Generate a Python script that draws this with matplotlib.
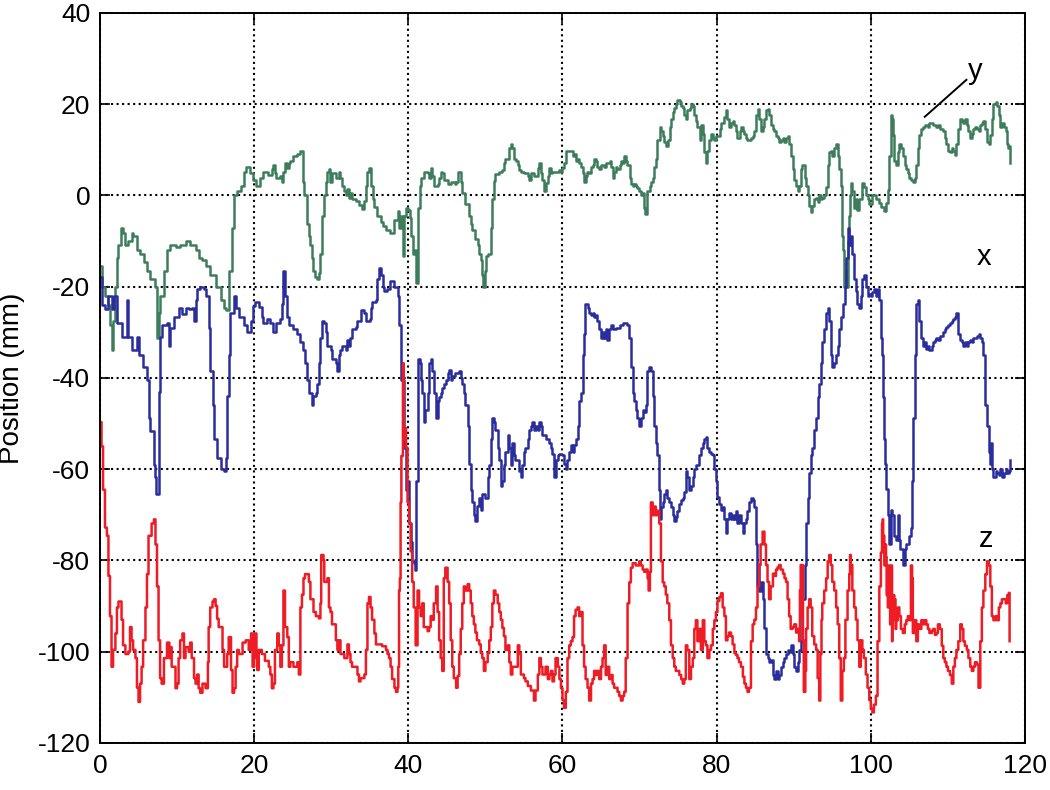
import numpy as np
import matplotlib
matplotlib.use("Agg")
import matplotlib.pyplot as plt

plt.rcParams['font.family'] = ['Liberation Sans', 'DejaVu Sans']
plt.rcParams['axes.unicode_minus'] = False

# (time, position) samples
y_trace = [
    (0, -15.5), (0.2, -20), (0.6, -22), (1.0, -24), (1.3, -28.5), (1.5, -34), (1.7, -27.5), (2.0, -20),
    (2.2, -13.7), (2.4, -11), (2.7, -7.2), (3.0, -8.2), (3.3, -11), (3.7, -10), (4.1, -8.2), (4.3, -9),
    (4.8, -11.9), (5.2, -12.8), (5.7, -14.6), (6.1, -16.5), (6.5, -18.3), (7.0, -18.3), (7.2, -20),
    (7.4, -31.2), (7.6, -25.7), (7.8, -22), (8.3, -16.5), (8.7, -11.9), (9.1, -11), (9.8, -11.4),
    (10.4, -11), (11.1, -10), (11.7, -11), (12.4, -11.9), (12.8, -13.7), (13.3, -14.2), (13.7, -15.5),
    (14.3, -17.4), (15.0, -20), (15.7, -22.9), (16.1, -24.8), (16.4, -25.2), (16.7, -16.5), (17.1, -7.2),
    (17.4, 0.1), (17.8, 1), (18.3, 2), (18.7, 5.2), (19.0, 6.1), (19.4, 4.8), (19.8, 3.4),
    (20.3, 2), (20.8, 3.8), (21.2, 5.2), (21.8, 4.5), (22.3, 5.8), (22.5, 6.6), (22.7, 4.8), (22.9, 3.8),
    (23.4, 4.3), (23.6, 3), (23.8, 5.2), (24.0, 7), (24.3, 6), (24.5, 7), (24.7, 7.5), (25.1, 8.5),
    (25.6, 9), (26.0, 9.8), (26.3, 8.5), (26.4, 3), (26.5, 0), (26.8, -6.3), (27.1, -9), (27.3, -11),
    (27.5, -13.7), (27.7, -16.5), (27.9, -17.9), (28.2, -18.3), (28.4, -17), (28.6, -12.8), (28.8, -4.6),
    (29.0, 0), (29.3, 3), (29.5, 5.2), (29.7, 5.7), (29.9, 3), (30.1, 4.8), (30.6, 3.8), (31.0, 5.2),
    (31.2, 3.8), (31.4, 2), (31.7, 1), (31.9, 0), (32.1, 1.4), (32.3, -0.5), (32.5, 0.5), (32.7, -0.8),
    (33.2, -1.3), (33.6, -2.2), (34.0, -3.1), (34.3, -1.3), (34.5, 2), (34.7, 5.2), (34.9, 5.9), (35.1, 2),
    (35.4, -0.8), (35.6, -2.6), (36.0, -4.5), (36.4, -5.8), (36.7, -6.8), (37.1, -7.7), (37.6, -8.2),
    (38.0, -8.2), (38.2, -5.4), (38.6, -3.5), (38.8, -7.2), (39.0, -4.6), (39.3, -13.2), (39.5, -4.6),
    (39.7, -2.8), (40.0, -3.2), (40.2, -5), (40.4, -9), (40.6, -12.8), (40.9, -12), (41.0, -19.2),
    (41.2, -13.7), (41.3, -2.8), (41.5, 2), (41.7, 3.8), (42.0, 5.2), (42.5, 4.8), (42.7, 3.8), (42.9, 6),
    (43.1, 4.3), (43.3, 2), (43.8, 2.5), (44.0, 3.8), (44.2, 5.2), (44.4, 4.8), (44.6, 3.4), (45.1, 2.5),
    (45.5, 3), (46.0, 2.5), (46.2, 3), (46.4, 5.2), (46.6, 5.2), (46.8, 3), (47.0, 0.5), (47.4, -1.8),
    (47.9, -4.5), (48.1, -6.3), (48.3, -7.7), (48.7, -9.5), (49.0, -11), (49.2, -12.8), (49.4, -14.2),
    (49.6, -17.4), (49.7, -20), (50.0, -16.5), (50.1, -13.2), (50.4, -12.8), (50.7, -7.2), (50.9, -0.8),
    (51.1, 3.2), (51.3, 4.6), (51.8, 5.2), (52.2, 5.6), (52.4, 7), (52.6, 8), (52.9, 8), (53.1, 10.3),
    (53.3, 11.2), (53.5, 10.3), (53.7, 8), (54.0, 7.5), (54.2, 6.6), (54.4, 5.6), (54.6, 5.2), (55.0, 4.8),
    (55.5, 4.3), (55.7, 3.4), (55.9, 4.8), (56.3, 4.3), (56.8, 6), (57.0, 7), (57.2, 4.8), (57.4, 3.4),
    (57.6, 1), (57.8, 2.8), (58.1, 4.3), (58.3, 6), (58.5, 4.8), (58.7, 5.2), (59.1, 5.2), (59.6, 5.6),
    (59.8, 5.2), (60.0, 6), (60.2, 7), (60.4, 9.8), (60.9, 9.8), (61.3, 8.5), (61.5, 9), (61.7, 7.5),
    (62.0, 7.9), (62.2, 7), (62.4, 6.2), (62.6, 4.8), (62.8, 2.9), (63.0, 4.3), (63.2, 5.2), (63.5, 4.8),
    (63.7, 6.2), (63.9, 6.6), (64.1, 8), (64.3, 7.5), (64.5, 6.2), (64.8, 5.7), (65.0, 6.6), (65.4, 6.2),
    (65.6, 7), (66.1, 7.5), (66.3, 6.2), (66.5, 3.8), (66.7, 5.2), (66.9, 6.2), (67.1, 5.7), (67.4, 6.6),
    (67.6, 7.5), (67.8, 7), (68.0, 8.5), (68.2, 7.5), (68.4, 6.6), (68.7, 3.8), (68.9, 2.5), (69.1, 2),
    (69.3, 2.5), (69.5, 2), (69.7, 1.6), (69.9, 1), (70.2, 0), (70.4, 0.5), (70.6, -2.8), (70.7, -4),
    (70.9, -0.9), (71.0, 1), (71.3, 2), (71.5, 2.9), (71.7, 3.8), (71.9, 6.2), (72.1, 7.9), (72.3, 12.2),
    (72.6, 14.9), (72.8, 14), (73.0, 13), (73.2, 11.7), (73.4, 10.8), (73.7, 12.2), (73.9, 14.9),
    (74.1, 16.8), (74.3, 18.2), (74.5, 19.1), (74.7, 20), (74.9, 20.9), (75.2, 20.5), (75.4, 19.5),
    (75.6, 19.1), (75.8, 17.7), (76.0, 16.8), (76.2, 18.6), (76.5, 19.1), (76.7, 20), (76.9, 19.5),
    (77.1, 17.7), (77.3, 16.3), (77.5, 14.9), (77.8, 12.2), (78.0, 15.4), (78.2, 13.5), (78.4, 9.4),
    (78.6, 7), (78.8, 9.8), (79.0, 12.2), (79.3, 13.5), (79.5, 12.6), (79.7, 12.2), (79.9, 13),
    (80.1, 13), (80.4, 14.5), (80.6, 15.9), (81.0, 17.2), (81.2, 18.6), (81.4, 16.8), (81.6, 14.9),
    (81.9, 15.9), (82.1, 16.3), (82.3, 15.4), (82.5, 14), (82.7, 12.6), (83.0, 14), (83.2, 14.9),
    (83.4, 14), (83.6, 13.5), (83.8, 12.6), (84.0, 12.2), (84.5, 12.6), (84.7, 13), (84.9, 14),
    (85.1, 17.7), (85.3, 19), (85.5, 16.8), (85.7, 14), (86.0, 14.9), (86.2, 16.8), (86.4, 18.6),
    (86.6, 19), (86.8, 17.7), (87.0, 15.4), (87.3, 14.5), (87.5, 14), (87.7, 13), (87.9, 12.6),
    (88.1, 11.7), (88.3, 12.2), (88.6, 12.6), (88.8, 11.7), (89.0, 12.6), (89.2, 13), (89.4, 11.2),
    (89.6, 8.5), (89.85, 5.7), (90.06, 3.4), (90.3, 2), (90.5, 1), (90.7, 2), (90.9, 5.7), (91.1, 6.6),
    (91.4, 3.8), (91.6, 2), (91.8, 0), (92.0, -2.3), (92.2, -3.7), (92.4, -2.3), (92.66, -0.9),
    (92.9, -0.5), (93.1, -1.4), (93.3, 0), (93.5, -0.9), (93.7, -0.5), (93.95, 0), (94.2, 1.8),
    (94.4, 6.6), (94.6, 9.4), (94.8, 9.8), (95.0, 8.5), (95.25, 10.3), (95.5, 11.2), (95.7, 8.5),
    (95.9, 5.7), (96.1, 2), (96.2, -9), (96.33, -11.9), (96.46, -20.2), (96.6, -16.5), (96.76, -20.2),
    (96.98, -18.3), (97.1, -10), (97.2, -4.6), (97.3, 0), (97.4, 2.8), (97.6, 1), (97.84, -2.8),
    (98.06, -0.9), (98.27, -3.2), (98.5, -0.9), (98.7, -0.9), (98.9, 2.8), (99.1, 1.8), (99.35, 0),
    (99.57, -0.9), (99.8, -1.8), (100.2, 0.15), (100.65, -0.8), (101.1, -1.7), (101.3, -2.6),
    (101.75, -3.5), (101.97, -1.7), (102.2, 1.1), (102.4, 8.5), (102.6, 17.7), (102.8, 16.8),
    (102.9, 13.1), (103.05, 7.5), (103.3, 6.6), (103.5, 9.4), (103.7, 11.2), (103.9, 10.3),
    (104.15, 8.5), (104.4, 6.6), (104.6, 5.7), (104.8, 4.8), (105.0, 3.8), (105.2, 3.4), (105.5, 2.9),
    (105.7, 3.8), (105.9, 6.6), (106.1, 10.3), (106.3, 13.1), (106.55, 14.5), (106.8, 14.9), (107.0, 15.4),
    (107.4, 14.9), (107.6, 15.8), (108.1, 15.4), (108.5, 14.9), (108.7, 15.4), (108.95, 14.5), (109.4, 14),
    (109.6, 12.6), (109.8, 11.2), (110.0, 9.8), (110.26, 9.4), (110.5, 10.3), (110.7, 9.8), (110.9, 8.9),
    (111.1, 11.2), (111.35, 14.5), (111.6, 16.8), (111.8, 16.3), (112.0, 15.8), (112.2, 16.8),
    (112.45, 15.4), (112.66, 14), (112.9, 12.6), (113.1, 13.5), (113.3, 14.5), (113.5, 14.9),
    (113.75, 14.5), (113.97, 14), (114.2, 15.4), (114.4, 15.8), (114.6, 16.3), (114.85, 14.5),
    (115.07, 11.7), (115.3, 11.2), (115.5, 13.1), (115.7, 16.8), (115.9, 20), (116.2, 20.5), (116.4, 19.5),
    (116.6, 17.7), (116.8, 14.9), (117.0, 15.8), (117.25, 14.9), (117.5, 14), (117.7, 11.2), (117.8, 10.3),
    (117.9, 10.8), (118.1, 7.1),
]

x_trace = [
    (0, -18), (0.3, -24), (0.7, -25), (1.1, -22), (1.5, -25), (1.8, -22), (2.2, -28), (2.8, -31),
    (3.5, -23), (3.7, -31), (4.1, -34), (4.8, -31), (5.0, -35), (5.6, -37.7), (6.1, -40.5), (6.3, -48.8),
    (6.5, -51.6), (7.0, -59), (7.2, -61.7), (7.3, -65.4), (7.6, -43), (7.8, -31), (8.0, -28.5), (8.7, -28),
    (8.9, -33), (9.1, -29), (9.6, -26.6), (10.2, -24.8), (10.6, -26), (11.1, -24.8), (11.5, -25),
    (12.0, -24.8), (12.2, -27.5), (12.4, -23), (12.6, -20.6), (13.0, -20), (13.5, -20.6), (13.7, -22),
    (14.1, -29), (14.3, -38.6), (14.6, -46), (14.8, -53.4), (15.2, -57.6), (15.7, -60), (16.1, -60.3),
    (16.3, -57.6), (16.5, -44), (16.7, -35), (16.9, -25.7), (17.4, -22), (17.6, -24.8), (18.0, -26.6),
    (18.7, -28.5), (19.1, -29.9), (19.6, -27.5), (19.8, -24.3),
    (20.1, -23.4), (20.6, -24.5), (21.0, -26.6), (21.2, -28), (21.7, -27), (22.1, -28), (22.5, -29.9),
    (22.9, -28), (23.4, -27), (23.6, -23.9), (23.8, -16.5), (24.0, -22), (24.3, -26.6), (24.5, -28.5),
    (25.1, -29.4), (25.6, -30.3), (26.0, -32.2), (26.4, -34), (26.6, -36.8), (26.9, -40.5), (27.1, -43.3),
    (27.5, -46), (27.7, -44), (28.0, -43.3), (28.2, -41.4), (28.4, -36.8), (28.6, -31.2), (28.8, -27.5),
    (29.1, -28), (29.3, -30), (29.5, -33), (30.0, -34), (30.1, -35.9), (30.6, -36.8), (30.8, -38.6),
    (31.0, -34.9), (31.2, -34), (31.4, -33), (31.9, -34), (32.1, -31.7), (32.3, -33), (32.5, -31.2),
    (32.7, -29.4), (33.2, -28.9), (33.4, -27.5), (33.8, -25.2), (34.3, -25.7), (34.5, -27.5), (35.0, -27),
    (35.1, -24.8), (35.3, -23.4), (35.8, -23), (36.0, -18.3), (36.2, -16), (36.4, -17.4), (36.7, -20.2),
    (36.9, -21), (37.3, -20.6), (37.6, -18.8), (38.0, -18.8), (38.2, -20.2), (38.6, -22), (38.8, -28.5),
    (39.0, -31.2), (39.1, -40.5), (39.4, -51.6), (39.5, -55.3), (39.7, -64.5), (39.9, -62.7),
    (40.1, -71.9), (40.3, -76), (40.5, -80.2), (40.7, -80.6), (40.9, -82), (41.05, -62.6), (41.2, -42),
    (41.3, -35.9), (41.5, -36.8), (41.6, -40.5), (41.8, -43.3), (42.0, -49.7), (42.2, -47), (42.5, -43.3),
    (42.7, -36.8), (42.9, -35.9), (43.1, -38.6), (43.3, -43.3), (43.6, -48.8), (43.8, -45), (44.0, -44.2),
    (44.2, -43.3), (44.4, -42.3), (44.6, -41.4), (44.9, -40.5), (45.1, -39), (45.3, -38.2), (45.5, -40.5),
    (45.7, -39.6), (46.1, -39), (46.6, -38.6), (46.8, -40), (47.0, -41.4), (47.2, -43.3), (47.4, -46),
    (47.7, -50.6), (47.9, -58.9), (48.1, -64.5), (48.3, -67.3), (48.5, -70), (48.7, -71.4), (48.9, -68),
    (49.2, -66.4), (49.4, -69), (49.6, -65.4), (50.0, -66.4), (50.3, -65.4), (50.4, -61.7), (50.5, -59),
    (50.7, -53.4), (50.9, -48.8), (51.1, -49.7), (51.3, -51.5), (51.6, -55.3), (51.8, -58), (52.0, -63.6),
    (52.2, -62.7), (52.4, -59), (52.6, -56.2), (52.9, -52.5), (53.1, -55.3), (53.3, -59), (53.5, -54.3),
    (53.7, -57), (53.9, -58), (54.4, -60.3), (54.6, -61.7), (54.8, -59), (55.0, -56.2), (55.2, -55.3),
    (55.5, -53.4), (55.7, -51.5), (55.9, -50.6), (56.1, -49.7), (56.3, -51.5), (56.5, -50.6), (56.8, -51.5),
    (57.0, -49.7), (57.2, -50.6), (57.4, -52.5), (57.8, -53.4), (58.3, -54.3), (58.5, -55.3), (58.7, -56.6),
    (58.9, -61.7), (59.1, -58), (59.4, -57), (59.6, -56.6), (60.0, -57), (60.2, -58.9), (60.4, -59.9),
    (60.65, -58), (60.9, -56.2), (61.1, -54.8), (61.3, -56.2), (61.5, -54.8), (61.7, -53.4), (61.95, -50.6),
    (62.16, -45), (62.38, -43.3), (62.6, -34.9), (62.8, -30.3), (62.9, -23.9), (63.25, -24.8), (63.5, -25.7),
    (63.7, -26.2), (63.9, -25.7), (64.1, -26.6), (64.3, -26.2), (64.5, -27.6), (64.76, -29.4), (65.0, -31.2),
    (65.2, -29.9), (65.4, -31.2), (65.6, -29.4), (65.8, -31.7), (66.06, -29.4), (66.3, -28.5), (66.5, -29.4),
    (66.9, -29), (67.4, -28.5), (67.8, -28), (68.2, -28), (68.4, -28.5), (68.66, -31.2), (68.9, -37.7),
    (69.1, -43.3), (69.3, -45), (69.5, -47), (69.7, -48.8), (69.96, -50.6), (70.2, -48.8), (70.4, -47),
    (70.6, -47.5), (70.8, -46), (71.0, -38.6), (71.26, -37.7), (71.5, -38.6), (71.7, -44), (71.9, -50.6),
    (72.1, -54.3), (72.3, -57), (72.55, -64.5), (72.64, -71), (72.77, -68.2), (73.0, -67.3), (73.2, -65.4),
    (73.4, -64.5), (73.6, -66.4), (73.85, -67.3), (74.07, -68.2), (74.3, -70), (74.5, -71.4), (74.7, -70.5),
    (74.9, -69.1), (75.15, -67.7), (75.4, -66.8), (75.6, -66.4), (75.8, -65), (76.0, -60.3), (76.2, -61.7),
    (76.45, -64.5), (76.67, -63.6), (76.9, -61.7), (77.1, -59.9), (77.3, -59), (77.5, -59), (77.75, -57),
    (77.96, -55.3), (78.2, -54.3), (78.4, -53.4), (78.6, -52.9), (78.8, -55.3), (79.05, -56.2),
    (79.26, -56.6), (79.5, -57), (79.7, -59.9), (79.9, -62.7), (80.1, -66), (80.35, -67.7), (80.56, -69),
    (80.78, -68.2), (81.0, -71), (81.2, -73.9), (81.4, -71), (81.6, -69.6), (81.86, -71), (82.07, -70),
    (82.3, -71), (82.5, -69.1), (82.7, -71.9), (82.9, -70), (83.15, -71.9), (83.4, -73.9), (83.6, -71.9),
    (83.8, -71), (84.0, -69.1), (84.2, -67.3), (84.45, -66.3), (84.67, -66.8), (84.88, -68.2), (85.1, -76.5),
    (85.2, -85.7), (85.4, -81), (85.5, -86.6), (85.7, -84.7), (85.96, -88.5), (86.2, -94.9), (86.4, -100.5),
    (86.6, -101.4), (86.8, -102.3), (87.0, -101.8), (87.3, -105), (87.5, -106), (87.7, -104.2), (87.9, -106),
    (88.1, -105), (88.3, -103.3), (88.6, -102.3), (88.8, -101.4), (89.0, -100.5), (89.2, -99.6), (89.4, -100),
    (89.6, -98.6), (89.85, -100.5), (90.06, -103.3), (90.3, -104.2), (90.5, -102.3), (90.7, -99.6),
    (90.9, -97.7), (91.1, -88.5), (91.4, -81), (91.6, -71.9), (91.8, -66.4), (92.0, -60.8), (92.2, -57),
    (92.4, -55.3), (92.66, -51.5), (92.9, -48.8), (93.1, -44.2), (93.3, -41.4), (93.5, -36.8), (93.7, -32.2),
    (93.95, -29.4), (94.2, -25.7), (94.4, -24.8), (94.6, -27.5), (94.8, -34.9), (95.0, -37.7), (95.25, -36.8),
    (95.5, -34.9), (95.7, -33), (95.9, -29.4), (96.1, -26.6), (96.33, -23.9), (96.6, -20.2), (96.76, -13.7),
    (96.98, -9), (97.1, -7.2), (97.2, -10.8), (97.4, -9), (97.6, -12.8), (97.84, -18.3), (98.06, -21),
    (98.27, -23.9), (98.5, -24.8), (98.7, -22), (98.9, -18.3), (99.1, -17.4), (99.35, -20.2), (99.57, -22),
    (99.8, -21.6), (100.0, -22), (100.2, -21.1), (100.45, -20.6), (100.65, -22), (100.9, -20.6),
    (101.1, -22.9), (101.3, -31.2), (101.5, -34.9), (101.6, -44.1), (101.75, -53.3), (101.9, -58.9),
    (101.97, -64.4), (102.2, -70), (102.3, -75.6), (102.4, -76.5), (102.6, -69), (102.8, -70), (103.05, -74.6),
    (103.3, -75.6), (103.5, -70), (103.6, -75.6), (103.8, -77.4), (104.15, -81), (104.4, -77.4),
    (104.6, -76.5), (104.8, -76.5), (105.0, -74.6), (105.2, -72.8), (105.4, -62.6), (105.5, -48.8),
    (105.7, -34.9), (105.9, -23.9), (106.1, -22.9), (106.3, -27.6), (106.55, -31.2), (106.8, -33.1),
    (107.0, -32.2), (107.2, -33.6), (107.4, -33.1), (107.6, -34), (107.9, -33.1), (108.1, -32.2),
    (108.3, -31.7), (108.5, -31.2), (108.7, -31.7), (108.95, -30.8), (109.2, -30.8), (109.4, -29.9),
    (109.6, -29.4), (109.8, -28.9), (110.0, -28.5), (110.26, -28), (110.5, -27.6), (110.7, -27.1),
    (110.9, -26.6), (111.1, -25.7), (111.35, -30.3), (111.6, -31.7), (111.8, -32.2), (112.0, -33.1),
    (112.2, -32.2), (112.45, -33.1), (112.66, -32.2), (112.9, -31.7), (113.1, -32.2), (113.3, -31.2),
    (113.5, -31.2), (113.75, -30.8), (113.97, -30.3), (114.2, -31.2), (114.4, -32.2), (114.6, -34.9),
    (114.85, -46), (115.07, -50.6), (115.3, -56.2), (115.4, -58.9), (115.6, -54.3), (115.7, -59.9),
    (115.9, -61.7), (116.2, -60.3), (116.4, -60.8), (116.6, -61.3), (116.8, -59.9), (117.0, -61.7),
    (117.25, -60.8), (117.5, -59.9), (117.7, -60.8), (117.9, -60.3), (118.1, -58),
]

z_trace = [
    (0, -49.7), (0.2, -55), (0.4, -64.5), (0.65, -72.8), (0.9, -74.6), (1.1, -83.4), (1.3, -92.2),
    (1.5, -103.3), (1.7, -99.6), (2.0, -96), (2.2, -90.3), (2.4, -89), (2.8, -93), (3.0, -98.6),
    (3.3, -100.5), (3.7, -100), (3.9, -94.6), (4.1, -97.5), (4.3, -99.6), (4.6, -101.4), (4.8, -107.9),
    (5.0, -111), (5.2, -107), (5.4, -103.3), (5.6, -97.5), (5.9, -90.3), (6.1, -83), (6.3, -74.6),
    (6.7, -71.9), (7.0, -71), (7.2, -76.5), (7.4, -85.7), (7.6, -97.5), (7.8, -105.8), (8.0, -107),
    (8.3, -101.4), (8.7, -98), (9.0, -101.4), (9.1, -99), (9.3, -103.3), (9.8, -108), (10.0, -107),
    (10.2, -101.4), (10.4, -97.5), (10.7, -96), (10.9, -101.4), (11.1, -99), (11.5, -100), (11.7, -98),
    (11.9, -101.4), (12.2, -105.8), (12.4, -107), (12.6, -105), (12.8, -108), (13.0, -109), (13.3, -107),
    (13.7, -108), (14.0, -102.3), (14.1, -94.6), (14.3, -90.3), (14.6, -89), (14.8, -88.5), (15.0, -90),
    (15.2, -92.8), (15.4, -94.6), (15.9, -99.6), (16.1, -103.3), (16.5, -100.5), (16.7, -96.8),
    (17.0, -104), (17.2, -109), (17.4, -108), (17.6, -103.3), (17.8, -99.6), (18.0, -100.5), (18.5, -98),
    (18.9, -97.5), (19.3, -99.6), (19.6, -96), (19.8, -103.3), (20.0, -101.4),
    (20.1, -96), (20.3, -100), (20.4, -104), (20.6, -99.6), (21.0, -100.5), (21.4, -102), (21.9, -103.3),
    (22.1, -105), (22.3, -108), (22.5, -107), (22.7, -99.6), (23.0, -96), (23.2, -98.6), (23.4, -103.3),
    (23.6, -98.6), (23.8, -86.6), (24.0, -94.6), (24.3, -96.8), (24.5, -103.3), (24.7, -102.3),
    (25.1, -103.3), (25.6, -102.3), (25.8, -105), (26.0, -90.3), (26.2, -87.5), (26.4, -83.9), (26.6, -83),
    (27.1, -84.7), (27.3, -88.5), (27.7, -91.3), (28.0, -92.2), (28.4, -92.7), (28.6, -89.4), (28.7, -78.8),
    (29.0, -80), (29.1, -84.7), (29.5, -83.9), (29.7, -90.3), (29.9, -91.3), (30.1, -94), (30.6, -97.5),
    (30.8, -99.6), (31.0, -97.5), (31.2, -100.5), (31.7, -101.4), (32.1, -98.4), (32.3, -100.5),
    (32.5, -102.3), (32.7, -103.3), (33.2, -103.3), (33.4, -105), (33.6, -106.5), (33.8, -105.8),
    (34.3, -105), (34.5, -99.6), (34.7, -89.4), (34.9, -88), (35.1, -90.3), (35.3, -93), (35.6, -96),
    (35.8, -98.4), (36.2, -98.4), (36.6, -98.8), (37.1, -99.6), (37.3, -100.5), (37.5, -101.4),
    (37.7, -103.3), (37.9, -106), (38.2, -107.9), (38.4, -108.8), (38.6, -107.9), (38.7, -103.3),
    (38.8, -86.6), (38.9, -84), (39.0, -67.3), (39.1, -57.1), (39.3, -36.8), (39.4, -53.4), (39.6, -51),
    (39.7, -55.3), (39.9, -67.3), (40.1, -71.9), (40.3, -78), (40.5, -84.7), (40.7, -90.3), (40.95, -98.6),
    (41.2, -86.6), (41.4, -90.3), (41.6, -92.2), (41.8, -89.4), (42.0, -94.6), (42.5, -95.5), (42.7, -94.6),
    (42.9, -92.2), (43.1, -93), (43.3, -89.4), (43.6, -85.7), (43.8, -91.3), (44.0, -97.5), (44.2, -101.4),
    (44.4, -104.2), (44.6, -83.9), (44.8, -81.6), (45.1, -84.7), (45.3, -89.4), (45.5, -97.5),
    (45.7, -103.3), (45.9, -105.8), (46.2, -107.9), (46.4, -105.3), (46.6, -100.5), (46.8, -95),
    (47.0, -89.4), (47.2, -85.7), (47.4, -86.6), (47.7, -85.2), (47.9, -86.6), (48.1, -89.4), (48.3, -92.2),
    (48.5, -94), (48.7, -95.8), (48.9, -97.5), (49.2, -98.4), (49.4, -100.3), (49.6, -101.4), (49.8, -104.2),
    (50.0, -102.3), (50.3, -100.3), (50.5, -97.5), (50.7, -94.6), (50.9, -89.4), (51.1, -86.6), (51.3, -87.5),
    (51.6, -89.4), (51.8, -91.3), (52.0, -93), (52.2, -94.8), (52.4, -96.6), (52.6, -99.6), (52.9, -98.6),
    (53.1, -102.3), (53.3, -105), (53.5, -103.3), (54.0, -103.3), (54.2, -98.6), (54.4, -100.5), (54.6, -105),
    (55.0, -105.8), (55.2, -106.5), (55.5, -107.5), (55.9, -108.5), (56.3, -110.7), (56.5, -108.5),
    (56.8, -105), (57.0, -101.4), (57.2, -103.3), (57.4, -105), (57.8, -103.3), (58.1, -106), (58.3, -105),
    (58.5, -104.2), (58.7, -106.5), (58.9, -105), (59.1, -101.4), (59.4, -103.3), (59.6, -106), (59.8, -108),
    (60.0, -110.6), (60.2, -112.3), (60.43, -108.8), (60.65, -101.4), (60.87, -98.6), (61.08, -97.7),
    (61.3, -96.8), (61.5, -92.2), (61.7, -90.8), (61.95, -90.3), (62.16, -92.2), (62.38, -91.3), (62.6, -98.6),
    (62.8, -103.3), (63.0, -106), (63.25, -107.9), (63.46, -110.7), (63.7, -107), (63.9, -106), (64.1, -104.2),
    (64.3, -105.1), (64.5, -104.2), (64.76, -106), (65.0, -103.3), (65.2, -101.4), (65.4, -98.6),
    (65.6, -105.1), (65.8, -103.3), (66.06, -106), (66.3, -105.1), (66.5, -107), (66.7, -107.9),
    (67.14, -108.8), (67.36, -109.7), (67.58, -110.7), (67.8, -109.7), (68.0, -108.8), (68.2, -101.4),
    (68.44, -89.4), (68.66, -84.8), (68.87, -81.6), (69.1, -80.6), (69.5, -81.1), (69.96, -80.2),
    (70.17, -81.1), (70.4, -82), (70.6, -82.5), (70.8, -82), (71.04, -83.9), (71.17, -86.6), (71.34, -82.5),
    (71.47, -67.3), (71.7, -70.1), (71.9, -68.2), (72.1, -70.1), (72.3, -69.1), (72.55, -71.9), (72.77, -80.2),
    (73.0, -84.8), (73.2, -85.7), (73.4, -87.5), (73.6, -89.4), (73.85, -93.1), (74.07, -98.6), (74.3, -101.4),
    (74.5, -103.3), (74.7, -104.2), (75.15, -105.1), (75.4, -106), (75.6, -107), (75.8, -106), (76.0, -98.6),
    (76.2, -99.6), (76.45, -106), (76.67, -103.3), (76.9, -101.4), (77.1, -95), (77.3, -93.1), (77.5, -97.7),
    (77.75, -95), (77.96, -99.6), (78.2, -93.1), (78.4, -97.7), (78.6, -98.6), (78.8, -101.4), (79.05, -99.6),
    (79.26, -98.6), (79.5, -95), (79.7, -93.1), (79.9, -91.3), (80.1, -88.9), (80.35, -88), (80.56, -87.2),
    (80.78, -90.3), (81.0, -92.2), (81.2, -97.5), (81.4, -96.6), (81.6, -95.8), (81.86, -96.6), (82.07, -98.4),
    (82.3, -100.3), (82.5, -100.7), (82.7, -101.4), (82.9, -102.3), (83.15, -103.3), (83.4, -105.5),
    (83.6, -107), (83.8, -107.9), (84.0, -108.8), (84.2, -107.9), (84.45, -97.7), (84.67, -94), (84.88, -93),
    (85.1, -90.3), (85.3, -85.7), (85.5, -81), (85.7, -76.5), (85.96, -73.7), (86.2, -76.5), (86.4, -81),
    (86.6, -84.7), (86.8, -88.5), (87.0, -85.7), (87.3, -82.9), (87.5, -83.4), (87.7, -82), (87.9, -81.5),
    (88.1, -81), (88.3, -82), (88.6, -82.9), (88.8, -83.9), (89.0, -84.7), (89.2, -88.5), (89.4, -92.2),
    (89.6, -95), (89.85, -94.6), (90.06, -94), (90.3, -95.8), (90.5, -95), (90.7, -97.7), (90.8, -86.6),
    (90.9, -81), (91.0, -92.2), (91.1, -81), (91.2, -97.5), (91.3, -108.8), (91.5, -104.2), (91.6, -95),
    (91.8, -90.3), (92.0, -88.5), (92.2, -90.3), (92.4, -96.6), (92.66, -98.4), (92.9, -99.6), (93.1, -105.8),
    (93.3, -110.7), (93.45, -100.5), (93.6, -93), (93.7, -89.4), (93.95, -86.6), (94.2, -83.9), (94.4, -80.2),
    (94.6, -78.8), (94.8, -81), (95.0, -84.7), (95.25, -86.6), (95.5, -90.3), (95.7, -94), (95.9, -101.4),
    (96.1, -110.7), (96.3, -104.2), (96.5, -101.4), (96.7, -93), (96.98, -86.6), (97.2, -83), (97.3, -78.8),
    (97.4, -81), (97.6, -86.6), (97.84, -90.3), (98.06, -93), (98.27, -97.5), (98.5, -103.3), (98.7, -97.5),
    (98.9, -99.6), (99.1, -101.4), (99.35, -105), (99.57, -107.9), (99.8, -110.6), (100.0, -112.5),
    (100.2, -113.3), (100.4, -111.6), (100.65, -109.7), (100.87, -97.7), (101.1, -85.7), (101.3, -78.3),
    (101.45, -71.9), (101.53, -71), (101.6, -74.6), (101.75, -81.1), (101.88, -76.5), (101.97, -79.3),
    (102.05, -87.6), (102.2, -90.3), (102.3, -81.1), (102.4, -83.9), (102.5, -94), (102.6, -81.1),
    (102.75, -97.7), (102.8, -93.1), (102.9, -87.6), (103.05, -88.5), (103.2, -95), (103.3, -93.1),
    (103.5, -90.3), (103.7, -92.2), (103.9, -95), (104.15, -95.9), (104.4, -94), (104.6, -93.1),
    (104.8, -92.2), (105.0, -93.1), (105.2, -81.1), (105.35, -83.9), (105.45, -95.9), (105.7, -93.1),
    (105.9, -97.7), (106.1, -94), (106.3, -95), (106.55, -93.1), (106.8, -94), (107.0, -93.1), (107.2, -94),
    (107.4, -95), (107.6, -95.9), (107.9, -95.4), (108.1, -95), (108.3, -96.3), (108.5, -95.9), (108.7, -94),
    (108.95, -95), (109.2, -98.7), (109.4, -101.4), (109.6, -102.3), (109.8, -103.3), (110.0, -104.2),
    (110.26, -105.1), (110.5, -107), (110.7, -103.3), (110.9, -101.4), (111.1, -99.6), (111.35, -97.7),
    (111.6, -94), (111.8, -95), (112.0, -97.7), (112.2, -98.7), (112.45, -99.6), (112.66, -101.4),
    (112.9, -103.3), (113.1, -104.2), (113.3, -103.3), (113.5, -102.3), (113.75, -102.8), (113.97, -107.9),
    (114.2, -97.7), (114.4, -90.3), (114.6, -86.6), (114.85, -83), (115.07, -80.2), (115.3, -81.1),
    (115.5, -85.7), (115.7, -92.2), (115.9, -93.1), (116.2, -92.2), (116.4, -93.1), (116.6, -90.3),
    (116.8, -89.4), (117.0, -88.5), (117.25, -88.5), (117.5, -89.4), (117.7, -87.6), (117.9, -87.1),
    (118.0, -97.7),
]

series = [("y", y_trace, "#3d7d5c"), ("x", x_trace, "#2a2e9c"), ("z", z_trace, "#ee1c25")]

# label positions for the three traces
label_pos = {"y": (113.6, 27.3), "x": (114.7, -13.6), "z": (114.9, -75.4)}
y_leader = [(107.0, 17.2), (112.4, 25.3)]

fig = plt.figure(figsize=(10.5, 7.9), dpi=100)
ax = fig.add_axes([0.0952, 0.0595, 0.881, 0.9244])

for name, pts, col in series:
    arr = np.array(pts)
    ax.plot(arr[:, 0], arr[:, 1], color=col, lw=1.8, drawstyle="steps-post")

for name, (tx, ty) in label_pos.items():
    ax.text(tx, ty, name, fontsize=21, ha="center", va="center")
ax.plot([p[0] for p in y_leader], [p[1] for p in y_leader], color="k", lw=1.4)

ax.set_xlim(0, 120)
ax.set_ylim(-120, 40)
ax.set_xticks(np.arange(0, 121, 20))
ax.set_yticks(np.arange(-120, 41, 20))
ax.grid(True, linestyle=":", color="k", linewidth=1.5)
ax.tick_params(direction="in", length=7, width=1.2, top=True, right=True, labelsize=19)
ax.tick_params(axis="x", pad=8)
ax.tick_params(axis="y", pad=7)
for s in ax.spines.values():
    s.set_linewidth(1.4)
ax.set_ylabel("Position (mm)", fontsize=20)
ax.yaxis.set_label_coords(-0.081, 0.5)

fig.savefig("out.png", dpi=100)
